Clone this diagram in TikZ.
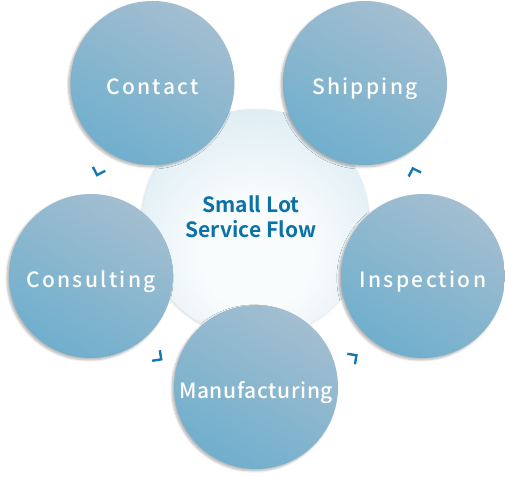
\documentclass[tikz,border=0pt]{standalone}
\usepackage{fontspec}
\setmainfont{Noto Sans CJK JP}[BoldFont={Noto Sans CJK JP Bold}]
\newfontfamily\stepfont{Noto Sans CJK JP Medium}[LetterSpace=11]
\usetikzlibrary{shadows.blur}

\definecolor{stepLight}{HTML}{A3BED0}
\definecolor{stepDark}{HTML}{70AFCD}
\definecolor{hubIn}{HTML}{F9FCFD}
\definecolor{hubOut}{HTML}{C4DFEB}
\definecolor{flowBlue}{HTML}{0B72A8}
\definecolor{chevBlue}{HTML}{1677AE}

\pgfdeclareradialshading{hubshade}{\pgfpoint{0bp}{-8bp}}{%
  color(0bp)=(hubIn); color(12bp)=(hubIn); color(50bp)=(hubOut); color(100bp)=(hubOut)}

\begin{document}
\begin{tikzpicture}[
    x=1pt, y=1pt,
    stepcircle/.style={circle, minimum size=164pt, inner sep=0pt, text=white,
        font=\stepfont\fontsize{21}{24}\selectfont, text height=23pt, text depth=0pt,
        top color=stepLight, bottom color=stepDark, shading angle=-30,
        blur shadow={shadow xshift=-2pt, shadow yshift=-2pt, shadow blur steps=6, shadow opacity=30}},
    hubcircle/.style={circle, minimum size=228pt, inner sep=0pt, shading=hubshade,
        blur shadow={shadow xshift=-1pt, shadow yshift=-1pt, shadow blur steps=6, shadow opacity=15}},
    title/.style={text=flowBlue, align=center, font=\bfseries\fontsize{21}{25}\selectfont},
    chev/.style={draw=chevBlue, line width=2.4pt, miter limit=10}
]
    \useasboundingbox (0,0) rectangle (505,478);

    % Centre
    \node[hubcircle] (hub) at (256,255) {};
    \node[title] (flow) at (251,261) {Small Lot\\Service Flow};

    % Steps
    \node[stepcircle] (contact) at (152.5,395) {Contact};
    \node[stepcircle] (shipping) at (365,395) {Shipping};
    \node[stepcircle] (consulting) at (91,202) {Consulting};
    \node[stepcircle] (inspection) at (423,202) {Inspection};
    \node[stepcircle] (manufacturing) at (256,91) {\addfontfeature{LetterSpace=3}Manufacturing};

    % Chevrons between steps
    \foreach \a in {162,234,306,18}
        \draw[chev, shift={(hub.center)}, shift={(\a:166)}, rotate=\a+90]
            (-3,6.5) -- (3.5,0) -- (-3,-6.5);

\end{tikzpicture}
\end{document}
